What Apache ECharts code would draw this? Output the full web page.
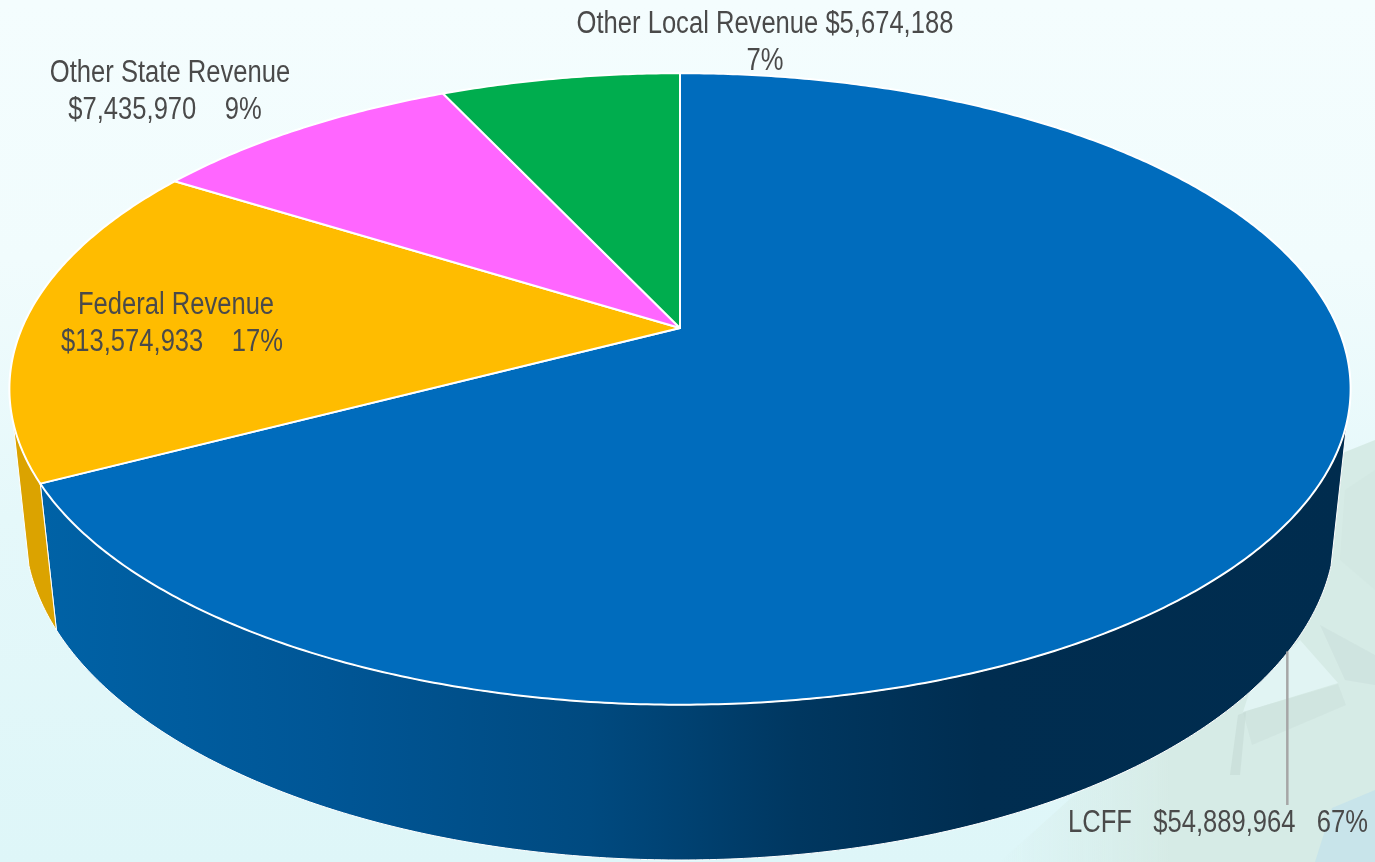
<!DOCTYPE html>
<html>
<head>
<meta charset="utf-8">
<style>
  html, body { margin: 0; height: 100%; overflow: hidden; }
  #chart { width: 1375px; height: 862px;
    background: linear-gradient(180deg, #f4fdfe 0%, #f1fcfd 30%, #e5f8fa 60%, #def6f8 100%); }
</style>
<script src="https://cdn.jsdelivr.net/npm/echarts@6/dist/echarts.min.js"></script>
</head>
<body>
<div id="chart"></div>
<script>
// Revenue by source, clockwise from twelve o'clock.
const categories = ['LCFF', 'Federal Revenue', 'Other State Revenue', 'Other Local Revenue'];
const revenue = [54889964, 13574933, 7435970, 5674188];
const topColors = ['#006cbd', '#ffbc00', '#ff66ff', '#00ad4e'];
const sideColors = [null, '#dba300', '#d855d8', '#009542'];

const total = revenue.reduce((a, b) => a + b, 0);
const percent = v => Math.round(v / total * 100) + '%';
const money = v => '$' + v.toLocaleString('en-US');

const labelLines = [
  [categories[0] + '   ' + money(revenue[0]) + '   ' + percent(revenue[0])],
  [categories[1], money(revenue[1]) + '    ' + percent(revenue[1])],
  [categories[2], money(revenue[2]) + '    ' + percent(revenue[2])],
  [categories[3] + ' ' + money(revenue[3]), percent(revenue[3])]
];

// Centre of every label line, in page pixels.
const labelAnchors = [
  [[1218, 823]],
  [[176, 305], [172, 342]],
  [[170, 73], [165, 110]],
  [[765, 24], [765, 61]]
];

// Perspective disc: the upper face and the lower rim are each a tilted circle.
const CX = 680;
const upperFace = { y0: 328, a: 304, b: 658, k: 0.193 };
const lowerRim = { y0: 466.6, a: 320.6, b: 644, k: 0.185 };
const VISIBLE_FROM = 107, VISIBLE_TO = 253;   // degrees clockwise from the top

function project(disc, deg) {
  const t = deg * Math.PI / 180;
  const u = Math.sin(t), v = -Math.cos(t), d = 1 - disc.k * v;
  return [CX + disc.b * u / d, disc.y0 + disc.a * v / d];
}
function arc(disc, from, to) {
  const n = Math.max(2, Math.ceil(Math.abs(to - from) * 2));
  const pts = [];
  for (let i = 0; i <= n; i++) pts.push(project(disc, from + (to - from) * i / n));
  return pts;
}
function sweep(idx) {
  let sum = 0;
  for (let i = 0; i < idx; i++) sum += revenue[i];
  return [sum / total * 360, (sum + revenue[idx]) / total * 360];
}

const chart = echarts.init(document.getElementById('chart'));
const data = revenue.map((v, i) => ({ name: categories[i], value: v }));

function renderWall(params) {
  const [s, e] = sweep(params.dataIndex);
  const from = Math.max(s, VISIBLE_FROM), to = Math.min(e, VISIBLE_TO);
  if (to <= from) return null;
  const points = arc(upperFace, from, to).concat(arc(lowerRim, to, from));
  const fill = sideColors[params.dataIndex] || new echarts.graphic.LinearGradient(0, 0, 1, 0, [
    { offset: 0, color: '#0062a6' },
    { offset: 0.22, color: '#005696' },
    { offset: 0.42, color: '#004a80' },
    { offset: 0.58, color: '#003760' },
    { offset: 0.72, color: '#002d50' },
    { offset: 1, color: '#002c4e' }
  ]);
  return { type: 'polygon', shape: { points }, style: { fill, stroke: '#ffffff', lineWidth: 1 } };
}

function renderTop(params) {
  const [s, e] = sweep(params.dataIndex);
  const points = [[CX, upperFace.y0]].concat(arc(upperFace, s, e));
  return {
    type: 'polygon', shape: { points },
    style: { fill: topColors[params.dataIndex], stroke: '#ffffff', lineWidth: 2, lineJoin: 'round' }
  };
}

function renderLabel(params) {
  const i = params.dataIndex;
  const children = labelLines[i].map((line, n) => ({
    type: 'text',
    x: labelAnchors[i][n][0], y: labelAnchors[i][n][1],
    scaleX: 0.825,
    style: {
      text: line, fontFamily: '"Liberation Sans", Arial, sans-serif', fontSize: 31,
      fill: '#4a4a4a', align: 'center', verticalAlign: 'middle'
    }
  }));
  if (i === 0) {
    const start = project(lowerRim, 121.4);
    children.push({
      type: 'line',
      shape: { x1: start[0] - 1, y1: start[1], x2: start[0] - 1, y2: labelAnchors[0][0][1] - 18 },
      style: { stroke: '#a6a6a6', lineWidth: 2.5 }
    });
  }
  return { type: 'group', children };
}

// Pale circuit-board backdrop in the lower right, fading out towards the rest of the page.
const fadeIn = (color, x2, y2) => new echarts.graphic.LinearGradient(0, 0, x2, y2, [
  { offset: 0, color: color + '00' },
  { offset: 0.45, color: color + 'ff' },
  { offset: 1, color: color + 'ff' }
]);
const backdrop = [
  { type: 'polygon', shape: { points: [[1375, 440], [1300, 470], [1180, 700], [1000, 862], [1375, 862]] }, style: { fill: fadeIn('#d6ebe6', 1, 0) } },
  { type: 'polygon', shape: { points: [[1270, 670], [1300, 640], [1338, 683], [1243, 712], [1250, 690]] }, style: { fill: '#e2f5f4', opacity: 0.9 } },
  { type: 'polygon', shape: { points: [[1320, 625], [1375, 655], [1375, 685], [1345, 680]] }, style: { fill: '#cbdfda', opacity: 0.55 } },
  { type: 'polygon', shape: { points: [[1243, 712], [1338, 684], [1346, 705], [1252, 745]] }, style: { fill: '#c9ded9', opacity: 0.45 } },
  { type: 'polygon', shape: { points: [[1238, 715], [1246, 712], [1240, 775], [1230, 775]] }, style: { fill: '#c2d7d2', opacity: 0.5 } },
  { type: 'polygon', shape: { points: [[1375, 470], [1345, 490], [1340, 560], [1375, 590]] }, style: { fill: '#cfe5df', opacity: 0.5 } },
  { type: 'polygon', shape: { points: [[1315, 862], [1332, 808], [1375, 790], [1375, 862]] }, style: { fill: '#c6e3ea', opacity: 0.9 } }
];

chart.setOption({
  animation: false,
  backgroundColor: 'transparent',
  graphic: { elements: backdrop.map(el => ({ ...el, z: 0, silent: true })) },
  series: [
    { type: 'custom', name: 'side', coordinateSystem: 'none', silent: true, data, renderItem: renderWall, z: 2 },
    { type: 'custom', name: 'face', coordinateSystem: 'none', silent: true, data, renderItem: renderTop, z: 3 },
    { type: 'custom', name: 'labels', coordinateSystem: 'none', silent: true, data, renderItem: renderLabel, z: 4 }
  ]
});
</script>
</body>
</html>
